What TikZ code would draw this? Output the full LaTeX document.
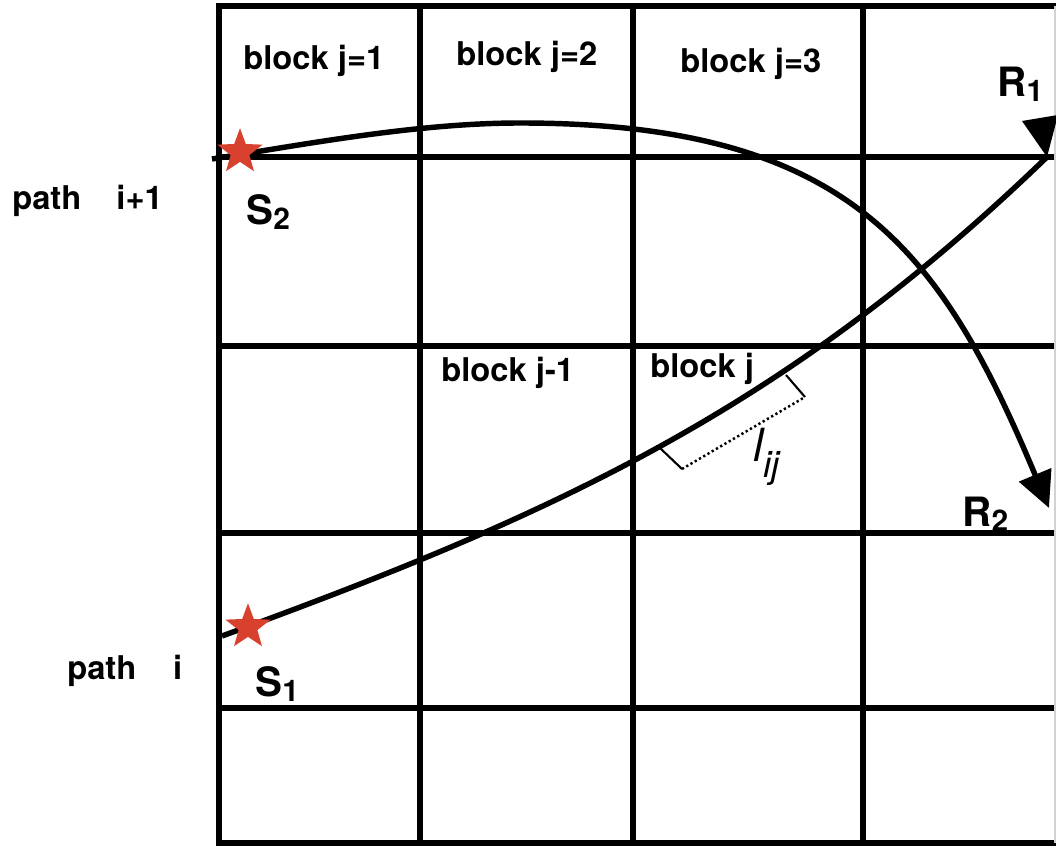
\documentclass[tikz,border=0pt]{standalone}
\usepackage{fontspec}
\setmainfont{TeX Gyre Heros}
\usepackage{tikz}
\usetikzlibrary{shapes.geometric, arrows.meta, calc}
\definecolor{starRed}{HTML}{D9412F}

\begin{document}
\begin{tikzpicture}[
    x=0.02cm, y=-0.02cm,
    gridLine/.style={line width=3.1pt, black, line cap=rect},
    rayPath/.style={line width=3.1pt, black},
    rayArrow/.style={rayPath, -{Triangle[length=0.72cm, width=0.68cm]}},
    srcStar/.style={star, star points=5, star point ratio=2.4, fill=starRed, draw=none, minimum size=0.95cm, inner sep=0pt},
    blockLbl/.style={anchor=base west, inner sep=0pt, font=\fontsize{18.6}{20}\selectfont\bfseries},
    pathLbl/.style={blockLbl},
    markLbl/.style={anchor=base west, inner sep=0pt, font=\fontsize{23}{25}\selectfont\bfseries},
    lenTick/.style={line width=1.2pt},
    lenDots/.style={line width=1.4pt, dash pattern=on 1.3pt off 1.5pt}
]
\useasboundingbox (0,0) rectangle (1056,847);
\fill[white] (0,0) rectangle (1056,847);
\clip (0,0) rectangle (1056,847);

% ============== grid ==============
\foreach \xx in {219,420,633,863}
    \draw[gridLine] (\xx,6) -- (\xx,843);
\foreach \yy in {6,157,346,533,708,843}
    \draw[gridLine] (219,\yy) -- (1056,\yy);
\draw[gray!35, line width=0.6pt] (1055,6) -- (1055,843);

% ============== end points ==============
\coordinate (tx1) at (222,636);
\coordinate (tx2) at (212,159);
\coordinate (top2) at (520,123);
\coordinate (rx1) at (1047,157);
\coordinate (rx2) at (1049,508);

% ============== paths ==============
\draw[rayPath] (tx1) .. controls (560,513) and (788,407) .. (rx1);
\fill (rx1) -- ++(-25,-36) -- ++(36,-6) -- cycle;
\draw[rayArrow] (tx2) .. controls (312,143) and (420,123) .. (top2)
                      .. controls (850,123) and (941,250) .. (rx2);

% ============== sources ==============
\node[srcStar] (s2) at (240,152) {};
\node[srcStar] (s1) at (248,627) {};

% ============== length l_ij ==============
\coordinate (ta) at (660,448);
\coordinate (tb) at (682,469);
\coordinate (tc) at (805,397);
\coordinate (td) at (786,375);
\draw[lenTick] (ta) -- (tb);
\draw[lenTick] (tc) -- (td);
\draw[lenDots] (tb) -- (tc);

% ============== labels ==============
\node[blockLbl] (b1)  at (243,70)  {block j=1};
\node[blockLbl] (b2)  at (456,66)  {block j=2};
\node[blockLbl] (b3)  at (680,73)  {block j=3};
\node[blockLbl] (bjm) at (441,382) {block j-1};
\node[blockLbl] (bj)  at (650,378) {block j};
\node[pathLbl] (pi1) at (12,210) {path\hspace{20pt}i+1};
\node[pathLbl] (pi)  at (67,680) {path\hspace{21pt}i};
\node[markLbl] (s2lbl) at (246,225) {S\raisebox{-2.8pt}{\fontsize{17}{17}\selectfont 2}};
\node[markLbl] (s1lbl) at (255,697) {S\raisebox{-2.8pt}{\fontsize{17}{17}\selectfont 1}};
\node[markLbl] (r1lbl) at (997,97)  {R\raisebox{-2.8pt}{\fontsize{17}{17}\selectfont 1}};
\node[markLbl] (r2lbl) at (962,527) {R\raisebox{-2.8pt}{\fontsize{17}{17}\selectfont 2}};
\node[anchor=base west, inner sep=0pt, font=\fontsize{26}{28}\selectfont\itshape] (lij) at (753,462)
    {l\raisebox{-9pt}{\fontsize{21}{21}\selectfont ij}};
\end{tikzpicture}
\end{document}
